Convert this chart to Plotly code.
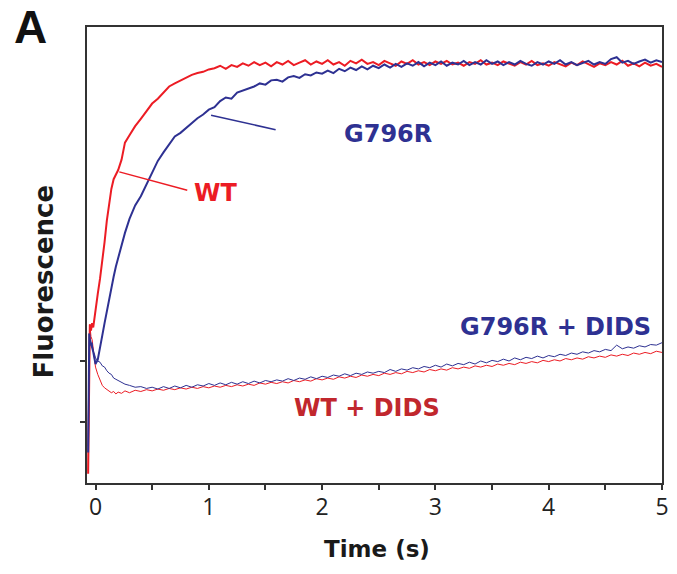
import plotly.graph_objects as go

# ---------------- data ----------------
time_s = [-0.065, -0.06, -0.055, -0.05, -0.04, -0.03, -0.02, -0.01, 0.00, 0.02,
          0.04, 0.06, 0.08, 0.10, 0.12, 0.14, 0.16, 0.18, 0.20, 0.23,
          0.26, 0.30, 0.35, 0.40, 0.45, 0.50,
          0.55, 0.60, 0.65, 0.70, 0.75, 0.80, 0.85, 0.90, 0.95, 1.00,
          1.05, 1.10, 1.15, 1.20, 1.25, 1.30, 1.35, 1.40, 1.45, 1.50,
          1.55, 1.60, 1.65, 1.70, 1.75, 1.80, 1.85, 1.90, 1.95, 2.00,
          2.05, 2.10, 2.15, 2.20, 2.25, 2.30, 2.35, 2.40, 2.45, 2.50,
          2.55, 2.60, 2.65, 2.70, 2.75, 2.80, 2.85, 2.90, 2.95, 3.00,
          3.05, 3.10, 3.15, 3.20, 3.25, 3.30, 3.35, 3.40, 3.45, 3.50,
          3.55, 3.60, 3.65, 3.70, 3.75, 3.80, 3.85, 3.90, 3.95, 4.00,
          4.05, 4.10, 4.15, 4.20, 4.25, 4.30, 4.35, 4.40, 4.45, 4.50,
          4.55, 4.60, 4.65, 4.70, 4.75, 4.80, 4.85, 4.90, 4.95, 5.00]

wt = [0.15, 0.9, 2.2, 2.6, 2.5, 2.62, 2.55, 2.7, 2.8, 3.1,
      3.35, 3.62, 3.95, 4.3, 4.58, 4.82, 4.98, 5.06, 5.13, 5.3,
      5.58, 5.7, 5.85, 5.97, 6.1, 6.22,
      6.3, 6.4, 6.5, 6.55, 6.6, 6.64, 6.69, 6.72, 6.74, 6.78,
      6.80, 6.84, 6.79, 6.85, 6.82, 6.88, 6.84, 6.90, 6.85, 6.89,
      6.83, 6.90, 6.86, 6.92, 6.85, 6.89, 6.93, 6.86, 6.91, 6.87,
      6.93, 6.86, 6.90, 6.84, 6.92, 6.88, 6.94, 6.87, 6.90, 6.85,
      6.92, 6.88, 6.84, 6.91, 6.87, 6.93, 6.86, 6.90, 6.85, 6.91,
      6.87, 6.92, 6.86, 6.89, 6.84, 6.90, 6.87, 6.93, 6.86, 6.89,
      6.85, 6.91, 6.87, 6.84, 6.90, 6.86, 6.92, 6.85, 6.88, 6.84,
      6.90, 6.86, 6.83, 6.89, 6.85, 6.91, 6.86, 6.82, 6.88, 6.85,
      6.90, 6.86, 6.92, 6.84, 6.88, 6.83, 6.89, 6.84, 6.87, 6.82]

g796r = [0.5, 1.7, 2.45, 2.35, 2.3, 2.22, 2.15, 2.05, 1.95, 2.02,
         2.2, 2.42, 2.62, 2.82, 3.0, 3.2, 3.38, 3.55, 3.7, 3.9,
         4.1, 4.33, 4.55, 4.7, 4.9, 5.08,
         5.28, 5.42, 5.55, 5.68, 5.74, 5.82, 5.9, 5.98, 6.04, 6.12,
         6.16, 6.26, 6.32, 6.30, 6.40, 6.43, 6.47, 6.50, 6.55, 6.53,
         6.60, 6.61, 6.58, 6.65, 6.67, 6.64, 6.70, 6.68, 6.73, 6.71,
         6.76, 6.72, 6.79, 6.75, 6.81, 6.77, 6.83, 6.78, 6.84, 6.80,
         6.86, 6.81, 6.87, 6.82, 6.88, 6.84, 6.90, 6.83, 6.89, 6.85,
         6.91, 6.84, 6.89, 6.86, 6.92, 6.85, 6.90, 6.86, 6.93, 6.87,
         6.91, 6.85, 6.90, 6.86, 6.92, 6.87, 6.84, 6.90, 6.86, 6.91,
         6.87, 6.93, 6.86, 6.90, 6.85, 6.89, 6.92, 6.86, 6.90, 6.87,
         6.95, 6.98, 6.89, 6.92, 6.87, 6.91, 6.94, 6.89, 6.93, 6.90]

g796r_dids = [0.6, 2.0, 2.45, 2.4, 2.25, 2.3, 2.15, 2.12, 2.05, 2.0,
              1.98, 1.92, 1.9, 1.84, 1.8, 1.78, 1.72, 1.7, 1.68, 1.66,
              1.62, 1.6, 1.57, 1.58, 1.55, 1.57,
              1.54, 1.58, 1.55, 1.59, 1.56, 1.60, 1.57, 1.61, 1.59, 1.63,
              1.60, 1.64, 1.61, 1.65, 1.62, 1.66, 1.63, 1.67, 1.64, 1.68,
              1.66, 1.69, 1.67, 1.71, 1.68, 1.72, 1.70, 1.74, 1.71, 1.75,
              1.73, 1.77, 1.75, 1.79, 1.76, 1.80, 1.78, 1.82, 1.80, 1.83,
              1.81, 1.86, 1.83, 1.87, 1.85, 1.89, 1.87, 1.91, 1.89, 1.93,
              1.90, 1.95, 1.92, 1.96, 1.94, 1.98, 1.95, 2.00, 1.97, 2.01,
              1.99, 2.03, 2.00, 2.05, 2.02, 2.06, 2.04, 2.08, 2.05, 2.09,
              2.07, 2.11, 2.09, 2.13, 2.11, 2.15, 2.13, 2.17, 2.15, 2.19,
              2.17, 2.26, 2.20, 2.23, 2.21, 2.25, 2.23, 2.27, 2.26, 2.30]

wt_dids = [0.2, 1.2, 2.5, 2.6, 2.4, 2.35, 2.2, 2.0, 1.9, 1.78,
           1.68, 1.6, 1.56, 1.53, 1.51, 1.48, 1.50, 1.46, 1.49, 1.47,
           1.51, 1.48, 1.52, 1.50, 1.53, 1.51,
           1.54, 1.52, 1.55, 1.53, 1.56, 1.54, 1.57, 1.55, 1.58, 1.56,
           1.59, 1.57, 1.60, 1.58, 1.61, 1.59, 1.62, 1.60, 1.64, 1.62,
           1.65, 1.63, 1.66, 1.64, 1.68, 1.66, 1.69, 1.67, 1.71, 1.69,
           1.72, 1.70, 1.74, 1.72, 1.75, 1.73, 1.77, 1.75, 1.78, 1.76,
           1.80, 1.78, 1.81, 1.79, 1.83, 1.81, 1.84, 1.82, 1.86, 1.84,
           1.87, 1.85, 1.89, 1.87, 1.90, 1.88, 1.92, 1.90, 1.93, 1.91,
           1.95, 1.93, 1.96, 1.94, 1.98, 1.96, 1.99, 1.97, 2.01, 1.99,
           2.02, 2.00, 2.04, 2.02, 2.05, 2.03, 2.07, 2.05, 2.08, 2.06,
           2.10, 2.08, 2.11, 2.09, 2.13, 2.11, 2.14, 2.12, 2.16, 2.14]

x_ticks = [0, 1, 2, 3, 4, 5]
x_tick_labels = ["0", "1", "2", "3", "4", "5"]

RED = "#ec1c24"
BLUE = "#2e3192"
DARK_RED = "#c1272d"

fig = go.Figure()
fig.add_trace(go.Scatter(x=time_s, y=wt_dids, mode="lines",
                         line=dict(color=RED, width=1), name="WT + DIDS"))
fig.add_trace(go.Scatter(x=time_s, y=g796r_dids, mode="lines",
                         line=dict(color=BLUE, width=1), name="G796R + DIDS"))
fig.add_trace(go.Scatter(x=time_s, y=wt, mode="lines",
                         line=dict(color=RED, width=2), name="WT"))
fig.add_trace(go.Scatter(x=time_s, y=g796r, mode="lines",
                         line=dict(color=BLUE, width=2), name="G796R"))

label_font = dict(family="DejaVu Sans", size=24)

fig.add_shape(type="line", xref="x", yref="y", x0=0.21, y0=5.10, x1=0.81, y1=4.80,
              line=dict(color=RED, width=1.5))
fig.add_shape(type="line", xref="x", yref="y", x0=1.02, y0=6.03, x1=1.59, y1=5.79,
              line=dict(color=BLUE, width=1.5))

annotations = [
    dict(x=1.06, y=4.75, text="<b>WT</b>", font=dict(color=RED, **label_font)),
    dict(x=2.58, y=5.72, text="<b>G796R</b>", font=dict(color=BLUE, **label_font)),
    dict(x=4.06, y=2.56, text="<b>G796R + DIDS</b>", font=dict(color=BLUE, **label_font)),
    dict(x=2.40, y=1.23, text="<b>WT + DIDS</b>", font=dict(color=DARK_RED, **label_font)),
]
for a in annotations:
    fig.add_annotation(xref="x", yref="y", showarrow=False, xanchor="center",
                       yanchor="middle", **a)

# panel letter and axis titles
fig.add_annotation(xref="paper", yref="paper", x=-0.098, y=1.0, text="<b>A</b>",
                   showarrow=False, xanchor="center", yanchor="middle",
                   font=dict(family="Liberation Sans", size=46, color="#111"))
fig.add_annotation(xref="paper", yref="paper", x=-0.074, y=0.443,
                   text="<b>Fluorescence</b>", textangle=-90, showarrow=False,
                   xanchor="center", yanchor="middle",
                   font=dict(family="DejaVu Sans", size=26, color="#1a1a1a"))
fig.add_annotation(xref="paper", yref="paper", x=0.505, y=-0.145,
                   text="<b>Time (s)</b>", showarrow=False,
                   xanchor="center", yanchor="middle",
                   font=dict(family="DejaVu Sans", size=23, color="#1a1a1a"))

fig.update_layout(
    width=677, height=574,
    margin=dict(l=87, r=8, t=27, b=91),
    paper_bgcolor="white", plot_bgcolor="white",
    showlegend=False,
    xaxis=dict(range=[-0.075, 5.0], tickvals=x_ticks, ticktext=x_tick_labels,
               showgrid=False, zeroline=False, showline=True, linewidth=2,
               linecolor="#333", mirror=True, ticks="outside", ticklen=5,
               tickwidth=1.5, tickcolor="#333", ticklabelstandoff=-3,
               minor=dict(dtick=0.5, ticks="outside", ticklen=5, tickwidth=1.5,
                          tickcolor="#333"),
               tickfont=dict(family="Open Sans", size=23, color="#222")),
    yaxis=dict(range=[0, 7.475], tickvals=[1, 2], ticktext=["", ""],
               showgrid=False, zeroline=False, showline=True, linewidth=2,
               linecolor="#333", mirror=True, ticks="outside", ticklen=5,
               tickwidth=1.5, tickcolor="#333"),
)

# remove the default 8px page margin so the figure fills the window exactly
fig.write_html("out.html",
               config={"displayModeBar": False},
               post_script="document.body.style.margin='0px';"
                           "document.body.style.overflow='hidden';")
